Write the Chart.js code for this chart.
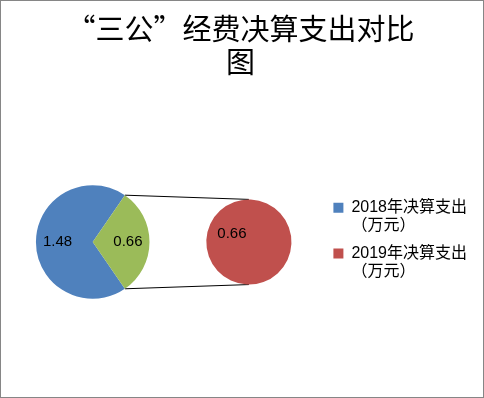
<!DOCTYPE html>
<html><head><meta charset="utf-8">
<script src="https://cdn.jsdelivr.net/npm/chart.js@4.4.1/dist/chart.umd.min.js"></script>
<style>
html,body{margin:0;padding:0;background:#fff;}
#wrap{width:484px;height:398px;box-sizing:border-box;border:1px solid #868686;background:#fff;}
canvas{display:block;}
</style></head><body>
<div id="wrap"><canvas id="c" width="482" height="396"></canvas></div>
<script>
// ---- data ----
const titleLines = ['“三公”经费决算支出对比', '图'];
const categories = ['2018年决算支出（万元）', '2019年决算支出（万元）'];
const legendLines = [['2018年决算支出', '（万元）'], ['2019年决算支出', '（万元）']];
const values = [1.48, 0.66];
const splitIndex = 1; // values from here go to the secondary pie

// ---- styles ----
const blue = '#4F81BD', green = '#9BBB59', red = '#C0504D';
const primaryValues = [values.slice(0, splitIndex).reduce((a, b) => a + b, 0), values.slice(splitIndex).reduce((a, b) => a + b, 0)];
const secondaryValues = values.slice(splitIndex);
const total = primaryValues[0] + primaryValues[1];
const otherFrac = primaryValues[1] / total;
const primaryRotation = 90 + 180 * otherFrac; // centres the "other" slice on the right

const pieOfPie = {
  id: 'pieOfPie',
  afterDatasetsUpdate(chart, args, opts) {
    const a = chart.chartArea;
    const unit = 2 + opts.gap + 2 * opts.ratio;
    const R = opts.fill * Math.min((a.bottom - a.top) / 2, (a.right - a.left) / unit);
    const groupW = R * unit;
    const startX = a.left + ((a.right - a.left) - groupW) / 2;
    const cy = (a.top + a.bottom) / 2;
    const cx1 = startX + R;
    const r2 = R * opts.ratio;
    const cx2 = startX + 2 * R + opts.gap * R + r2;
    chart.getDatasetMeta(0).data.forEach(el => { el.x = cx1; el.y = cy; el.outerRadius = R; el.innerRadius = 0; });
    chart.getDatasetMeta(1).data.forEach(el => { el.x = cx2; el.y = cy; el.outerRadius = r2; el.innerRadius = 0; });
  },
  beforeDatasetsDraw(chart, args, opts) {
    const other = chart.getDatasetMeta(0).data[1];
    const sec = chart.getDatasetMeta(1).data[0];
    if (!other || !sec) return;
    const ctx = chart.ctx;
    ctx.save();
    ctx.strokeStyle = opts.lineColor;
    ctx.lineWidth = 1;
    ctx.beginPath();
    ctx.moveTo(other.x + other.outerRadius * Math.cos(other.startAngle), other.y + other.outerRadius * Math.sin(other.startAngle));
    ctx.lineTo(sec.x, sec.y - sec.outerRadius);
    ctx.moveTo(other.x + other.outerRadius * Math.cos(other.endAngle), other.y + other.outerRadius * Math.sin(other.endAngle));
    ctx.lineTo(sec.x, sec.y + sec.outerRadius);
    ctx.stroke();
    ctx.restore();
  },
  afterDatasetsDraw(chart, args, opts) {
    const ctx = chart.ctx;
    ctx.save();
    ctx.font = opts.labelFont;
    ctx.fillStyle = '#000';
    ctx.textAlign = 'center';
    ctx.textBaseline = 'middle';
    chart.data.datasets.forEach((ds, di) => {
      const f = opts.labelRadius[di];
      chart.getDatasetMeta(di).data.forEach((el, i) => {
        const mid = (el.startAngle + el.endAngle) / 2;
        const x = el.x + Math.cos(mid) * el.outerRadius * f;
        const y = el.y + Math.sin(mid) * el.outerRadius * f;
        ctx.fillText(ds.data[i].toFixed(2), x, y);
      });
    });
    ctx.restore();
  }
};

new Chart(document.getElementById('c'), {
  type: 'pie',
  data: {
    labels: categories,
    datasets: [
      { data: primaryValues, backgroundColor: [blue, green], borderWidth: 0, rotation: primaryRotation },
      { data: secondaryValues, backgroundColor: [red], borderWidth: 0, rotation: 115 }
    ]
  },
  options: {
    responsive: false,
    animation: false,
    events: [],
    layout: { padding: { left: 3, right: 6, top: 0, bottom: 1 } },
    plugins: {
      title: {
        display: true, text: titleLines, color: '#000',
        font: { family: "'Noto Sans CJK SC', sans-serif", size: 29, weight: 'normal', lineHeight: 1.12 },
        padding: { top: 12, bottom: 10 }
      },
      legend: {
        position: 'right',
        title: { display: true, text: '', font: { size: 1, lineHeight: 1 }, padding: { top: 0, bottom: 83 } },
        labels: {
          boxWidth: 10, boxHeight: 10, padding: 10, color: '#000',
          font: { family: "'Liberation Sans', 'Noto Sans CJK SC', sans-serif", size: 16, lineHeight: 1.12 },
          generateLabels: () => legendLines.map((t, i) => ({
            text: t, fillStyle: i === 0 ? blue : red, strokeStyle: i === 0 ? blue : red,
            lineWidth: 0, hidden: false, index: i, fontColor: '#000'
          }))
        }
      },
      tooltip: { enabled: false },
      pieOfPie: { gap: 1.0, ratio: 0.75, fill: 0.8, lineColor: '#000', labelFont: "15px 'Liberation Sans', sans-serif", labelRadius: [0.62, 0.44] }
    }
  },
  plugins: [pieOfPie]
});
</script>
</body></html>
